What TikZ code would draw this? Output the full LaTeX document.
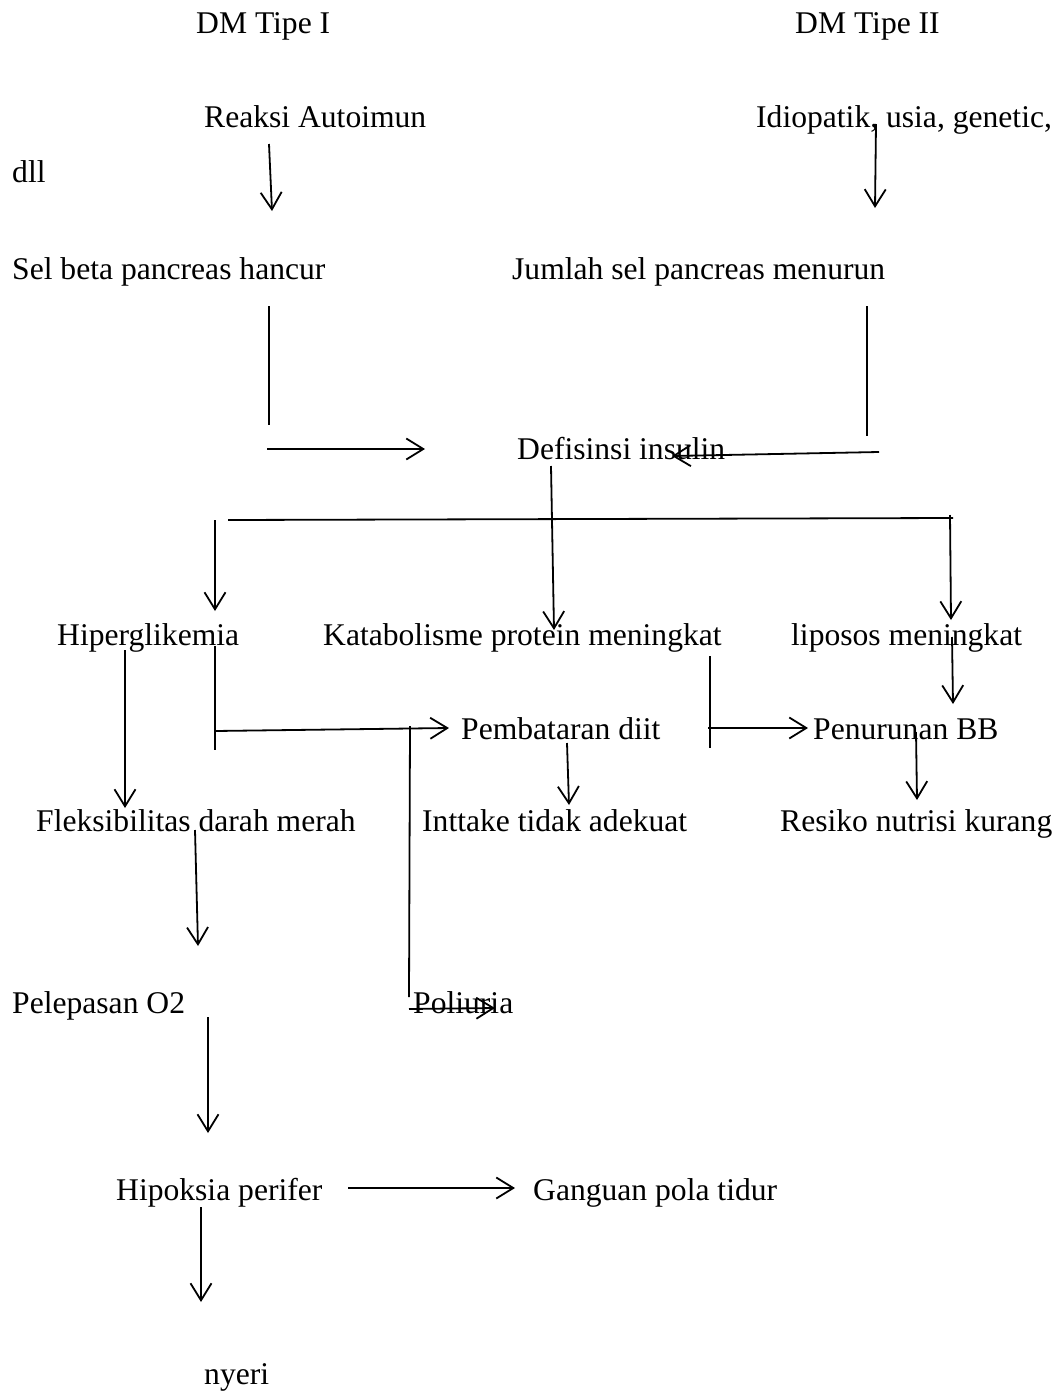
\documentclass[tikz,border=0pt]{standalone}
\usepackage{fontspec}
\setmainfont{Liberation Serif}
\usetikzlibrary{arrows.meta}

\tikzset{
  lbl/.style={anchor=base west, inner sep=0pt, font=\fontsize{31.6}{36}\selectfont},
  ln/.style={line width=1.8pt},
  arr/.style={ln, -{Straight Barb[length=17pt, width=21pt]}}
}

\begin{document}
\begin{tikzpicture}[x=1pt, y=-1pt]
\useasboundingbox (0,0) rectangle (1061,1394);

% texts
\node [lbl] (tipe1) at (196,34) {DM Tipe I};
\node [lbl] (tipe2) at (795,34) {DM Tipe II};
\node [lbl] (reaksi) at (204,128) {Reaksi Autoimun};
\node [lbl] (idio) at (756,128) {Idiopatik, usia, genetic,};
\node [lbl] (dll) at (12,182) {dll};
\node [lbl] (selbeta) at (12,279) {Sel beta pancreas hancur};
\node [lbl] (jumlah) at (512,279) {Jumlah sel pancreas menurun};
\node [lbl] (defisit) at (517,459) {Defisinsi insulin};
\node [lbl] (hiper) at (57,645) {Hiperglikemia};
\node [lbl] (katab) at (323,645) {Katabolisme protein meningkat};
\node [lbl] (lipo) at (791,645) {liposos meningkat};
\node [lbl] (pembat) at (461,739) {Pembataran diit};
\node [lbl] (penurun) at (813,739) {Penurunan BB};
\node [lbl] (fleksi) at (36,831) {Fleksibilitas darah merah};
\node [lbl] (intake) at (422,831) {Inttake tidak adekuat};
\node [lbl] (resiko) at (780,831) {Resiko nutrisi kurang};
\node [lbl] (pelepas) at (12,1013) {Pelepasan O2};
\node [lbl] (poli) at (413,1013) {Poliuria};
\node [lbl] (hipoksia) at (116,1200) {Hipoksia perifer};
\node [lbl] (gangguan) at (533,1200) {Ganguan pola tidur};
\node [lbl] (nyeri) at (204,1384) {nyeri};

% ends of the connectors
\coordinate (reaksi1) at (269,144);   \coordinate (reaksi2) at (272,211);
\coordinate (idio1) at (876,124);     \coordinate (idio2) at (875,208);
\coordinate (sel1) at (269,306);      \coordinate (sel2) at (269,425);
\coordinate (sel3) at (267,449);      \coordinate (sel4) at (425,449);
\coordinate (jml1) at (867,306);      \coordinate (jml2) at (867,436);
\coordinate (jml3) at (879,452);      \coordinate (jml4) at (672,456);
\coordinate (def1) at (551,466);      \coordinate (def2) at (554,630);
\coordinate (bar1) at (228,520);      \coordinate (bar2) at (953,518);
\coordinate (hip1) at (215,520);      \coordinate (hip2) at (215,611);
\coordinate (lip1) at (950,515);      \coordinate (lip2) at (951,620);
\coordinate (hg1) at (125,650);       \coordinate (hg2) at (125,808);
\coordinate (hg3) at (215,646);       \coordinate (hg4) at (215,750);
\coordinate (hg5) at (215,731);       \coordinate (hg6) at (449,728);
\coordinate (pol1) at (410,726);      \coordinate (pol2) at (409,997);
\coordinate (pol3) at (409,1009);     \coordinate (pol4) at (495,1008);
\coordinate (kat1) at (710,656);      \coordinate (kat2) at (710,748);
\coordinate (kat3) at (708,728);      \coordinate (kat4) at (808,728);
\coordinate (pem1) at (567,743);      \coordinate (pem2) at (569,805);
\coordinate (lp1) at (952,637);       \coordinate (lp2) at (953,704);
\coordinate (pen1) at (916,732);      \coordinate (pen2) at (917,800);
\coordinate (fl1) at (195,830);       \coordinate (fl2) at (198,946);
\coordinate (pe1) at (208,1017);      \coordinate (pe2) at (208,1133);
\coordinate (hk1) at (348,1188);      \coordinate (hk2) at (515,1188);
\coordinate (hk3) at (201,1207);      \coordinate (hk4) at (201,1302);

% connectors
\draw [arr] (reaksi1) -- (reaksi2);
\draw [arr] (idio1) -- (idio2);
\draw [ln] (sel1) -- (sel2);
\draw [arr] (sel3) -- (sel4);
\draw [ln] (jml1) -- (jml2);
\draw [arr] (jml3) -- (jml4);
\draw [arr] (def1) -- (def2);
\draw [ln] (bar1) -- (bar2);
\draw [arr] (hip1) -- (hip2);
\draw [arr] (lip1) -- (lip2);
\draw [arr] (hg1) -- (hg2);
\draw [ln] (hg3) -- (hg4);
\draw [arr] (hg5) -- (hg6);
\draw [ln] (pol1) -- (pol2);
\draw [arr] (pol3) -- (pol4);
\draw [ln] (kat1) -- (kat2);
\draw [arr] (kat3) -- (kat4);
\draw [arr] (pem1) -- (pem2);
\draw [arr] (lp1) -- (lp2);
\draw [arr] (pen1) -- (pen2);
\draw [arr] (fl1) -- (fl2);
\draw [arr] (pe1) -- (pe2);
\draw [arr] (hk1) -- (hk2);
\draw [arr] (hk3) -- (hk4);

\end{tikzpicture}
\end{document}
